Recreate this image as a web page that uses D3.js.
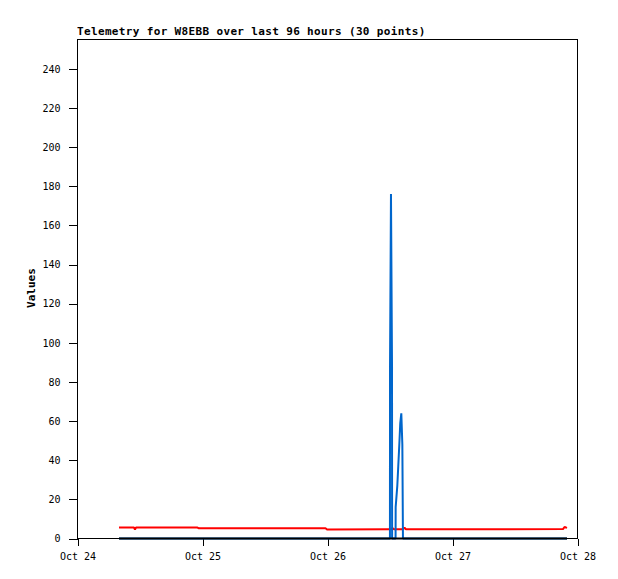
<!DOCTYPE html>
<html>
<head>
<meta charset="utf-8">
<script src="https://cdn.jsdelivr.net/npm/d3@7"></script>
<style>
  body { margin: 0; background: #fff; }
  svg { display: block; }
  text { font-family: "DejaVu Sans Mono", monospace; fill: #000; }
</style>
</head>
<body>
<svg id="chart"></svg>
<script>
// telemetry packets (UTC)
var times = [
    "2023-10-24T08:04", "2023-10-24T10:56", "2023-10-24T11:08", "2023-10-24T11:20",
    "2023-10-24T23:08", "2023-10-24T23:25", "2023-10-25T23:43", "2023-10-26T00:00",
    "2023-10-26T11:49", "2023-10-26T12:05", "2023-10-26T12:06", "2023-10-26T12:17",
    "2023-10-26T12:29", "2023-10-26T12:30", "2023-10-26T12:52", "2023-10-26T13:10",
    "2023-10-26T13:11", "2023-10-26T13:30", "2023-10-26T13:41", "2023-10-26T13:53",
    "2023-10-26T14:04", "2023-10-26T14:16", "2023-10-26T14:28", "2023-10-26T14:35",
    "2023-10-26T14:53", "2023-10-26T15:10", "2023-10-27T21:19", "2023-10-27T21:36",
    "2023-10-27T21:53", "2023-10-27T22:05"
];
var redValues = [5.6, 5.6, 4.6, 5.6, 5.6, 5.2, 5.2, 4.6, 4.7, 4.7,
                 4.7, 4.7, 4.7, 5.4, 4.7, 4.7, 4.7, 4.7, 4.7, 4.7,
                 4.7, 4.7, 4.7, 4.7, 5.6, 4.7, 4.8, 5.9, 5.6, 5.4];
var blueValues = [0, 0, 0, 0, 0, 0, 0, 0, 0, 0,
                  88, 176, 88, 0, 0, 0, 16, 27, 37, 48,
                  59, 64, 48, 0, 0, 0, 0, 0, 0, 0];
var blackValues = [0, 0, 0, 0, 0, 0, 0, 0, 0, 0,
                   0, 0, 0, 0, 0, 0, 0, 0, 0, 0,
                   0, 0, 0, 0, 0, 0, 0, 0, 0, 0];
var dayTicks = ["2023-10-24T00:00", "2023-10-25T00:00", "2023-10-26T00:00", "2023-10-27T00:00", "2023-10-28T00:00"];
var yTicks = [0, 20, 40, 60, 80, 100, 120, 140, 160, 180, 200, 220, 240];

var width = 618, height = 579;
var plotLeft = 77, plotRight = 577, plotTop = 39, plotBottom = 538;

var parse = d3.utcParse("%Y-%m-%dT%H:%M");
var dates = times.map(parse);

var svg = d3.select('#chart')
    .attr('width', width)
    .attr('height', height);

var xScale = d3.scaleUtc()
    .domain([parse(dayTicks[0]), parse(dayTicks[dayTicks.length - 1])])
    .range([plotLeft, plotRight]);

var yScale = d3.scaleLinear()
    .domain([0, 255])
    .range([plotBottom + 0.5, plotTop + 0.5]);

var xAxis = d3.axisBottom(xScale)
    .tickValues(dayTicks.map(parse))
    .tickFormat(d3.utcFormat('%b %d'))
    .tickSize(7)
    .tickPadding(7)
    .tickSizeOuter(0);

var yAxis = d3.axisLeft(yScale)
    .tickValues(yTicks)
    .tickSize(9)
    .tickPadding(8)
    .tickSizeOuter(0);

var gx = svg.append('g')
    .attr('transform', 'translate(0.5,' + (plotBottom + 0.5) + ')')
    .call(xAxis);
gx.select('.domain').remove();

var gy = svg.append('g')
    .attr('transform', 'translate(' + (plotLeft + 0.5) + ',0)')
    .call(yAxis);
gy.select('.domain').remove();

svg.selectAll('.tick text')
    .style('font-family', '"DejaVu Sans Mono", monospace')
    .style('font-size', '10px');
svg.selectAll('.tick line').attr('shape-rendering', 'crispEdges');

// frame
svg.append('rect')
    .attr('x', plotLeft + 0.5)
    .attr('y', plotTop + 0.5)
    .attr('width', plotRight - plotLeft)
    .attr('height', plotBottom - plotTop)
    .attr('fill', 'none')
    .attr('stroke', '#000')
    .attr('shape-rendering', 'crispEdges');

function drawLine(values, color) {
    var line = d3.line()
        .x((d, i) => xScale(dates[i]))
        .y(d => yScale(d));
    svg.append('path')
        .datum(values)
        .attr('d', line)
        .attr('fill', 'none')
        .attr('stroke', color)
        .attr('stroke-width', 2)
        .attr('stroke-linejoin', 'bevel');
}

drawLine(redValues, '#ff0000');
drawLine(blueValues, '#0066cc');
drawLine(blackValues, '#000000');

svg.append('text')
    .attr('x', plotLeft)
    .attr('y', 35)
    .style('font-size', '11px')
    .style('font-weight', 'bold')
    .style('letter-spacing', '0.35px')
    .text('Telemetry for W8EBB over last 96 hours (30 points)');

svg.append('text')
    .attr('transform', 'translate(35,288) rotate(-90)')
    .attr('text-anchor', 'middle')
    .style('font-size', '11px')
    .style('font-weight', 'bold')
    .text('Values');
</script>
</body>
</html>
